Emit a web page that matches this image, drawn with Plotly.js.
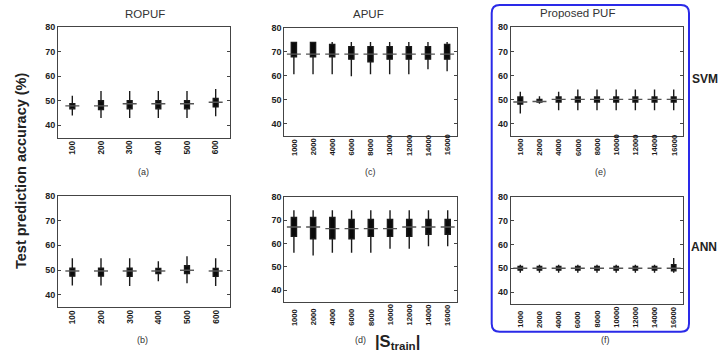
<!DOCTYPE html>
<html><head><meta charset="utf-8">
<script src="https://cdn.plot.ly/plotly-3.0.1.min.js"></script>
<style>body{margin:0;padding:0;background:#fff}#chart{width:720px;height:353px}</style>
</head><body><div id="chart"></div>
<script>
// ---------- data ----------
var ropufCats = ['100','200','300','400','500','600'];
var pufCats = ['1000','2000','4000','6000','8000','10000','12000','14000','16000'];
var yTickVals = [40,50,60,70,80];

// (a) ROPUF, SVM
var ropufSvmLo  = [44.0, 43.0, 43.0, 43.0, 43.0, 43.7];
var ropufSvmQ1  = [46.7, 46.4, 46.7, 46.7, 46.7, 47.5];
var ropufSvmMed = [47.9, 47.9, 48.8, 48.8, 48.8, 49.4];
var ropufSvmQ3  = [48.8, 50.0, 50.0, 50.0, 50.0, 50.9];
var ropufSvmHi  = [52.0, 54.0, 54.0, 54.0, 54.0, 54.8];
// (b) ROPUF, ANN
var ropufAnnLo  = [43.7, 43.7, 43.5, 45.4, 44.6, 43.5];
var ropufAnnQ1  = [47.5, 47.5, 47.4, 48.6, 48.6, 47.4];
var ropufAnnMed = [49.6, 49.6, 49.6, 49.6, 49.9, 49.6];
var ropufAnnQ3  = [50.7, 50.7, 50.7, 50.6, 51.7, 50.6];
var ropufAnnHi  = [54.8, 54.8, 54.8, 53.5, 55.6, 54.8];
// (c) APUF, SVM
var apufSvmLo  = [60.6, 60.6, 60.6, 59.8, 60.6, 60.6, 60.6, 62.7, 61.9];
var apufSvmQ1  = [67.9, 67.9, 67.9, 66.9, 65.8, 66.9, 66.9, 66.9, 66.9];
var apufSvmMed = [69.0, 69.0, 69.0, 69.0, 69.0, 69.0, 69.0, 69.0, 69.0];
var apufSvmQ3  = [73.9, 73.9, 73.0, 72.1, 72.1, 72.1, 72.1, 72.1, 73.0];
var apufSvmHi  = [74.0, 74.0, 74.0, 74.0, 74.0, 74.0, 74.0, 74.0, 74.0];
// (d) APUF, ANN
var apufAnnLo  = [56.0, 54.8, 56.0, 56.0, 56.0, 57.7, 57.7, 58.8, 58.8];
var apufAnnQ1  = [63.0, 62.0, 62.0, 62.0, 63.0, 63.0, 63.0, 63.9, 63.9];
var apufAnnMed = [67.0, 67.0, 66.3, 66.3, 66.3, 66.3, 67.0, 67.0, 67.0];
var apufAnnQ3  = [71.1, 71.1, 71.1, 70.2, 70.2, 70.2, 70.2, 70.2, 70.2];
var apufAnnHi  = [74.2, 74.2, 74.2, 74.2, 74.2, 74.2, 74.2, 74.2, 74.2];
// (e) Proposed PUF, SVM
var propSvmLo  = [44.2, 48.3, 45.6, 45.6, 45.6, 45.6, 45.6, 45.6, 45.6];
var propSvmQ1  = [48.1, 49.0, 49.0, 49.0, 49.0, 49.0, 49.0, 49.0, 49.0];
var propSvmMed = [49.0, 49.2, 50.1, 50.1, 50.1, 50.1, 50.1, 50.1, 50.1];
var propSvmQ3  = [51.1, 50.0, 51.1, 51.1, 51.1, 51.1, 51.1, 51.1, 51.1];
var propSvmHi  = [53.2, 51.4, 53.2, 54.2, 54.2, 54.2, 54.2, 54.2, 54.2];
// (f) Proposed PUF, ANN
var propAnnLo  = [48.1, 48.1, 48.1, 48.1, 48.1, 48.1, 48.1, 48.1, 48.1];
var propAnnQ1  = [49.2, 49.2, 49.2, 49.2, 49.2, 49.2, 49.2, 49.2, 48.9];
var propAnnMed = [50.0, 50.0, 50.0, 50.0, 50.0, 50.0, 50.0, 50.0, 50.0];
var propAnnQ3  = [50.7, 50.7, 50.7, 50.7, 50.7, 50.7, 50.7, 50.7, 51.5];
var propAnnHi  = [51.5, 51.5, 51.5, 51.5, 51.5, 51.5, 51.5, 51.5, 54.3];

// ---------- layout helpers ----------
var W = 720, H = 353;
function px(x){ return x / W; }
function py(y){ return 1 - y / H; }
var FONT = 'Liberation Sans, Arial, Helvetica, sans-serif';

var panels = [
  {id:'',  cats:ropufCats, lo:ropufSvmLo, q1:ropufSvmQ1, med:ropufSvmMed, q3:ropufSvmQ3, hi:ropufSvmHi, g:[58,230,27.3,137.5], lb:155.5, ls:8.3, bw:0.17},
  {id:'2', cats:pufCats,   lo:apufSvmLo,  q1:apufSvmQ1,  med:apufSvmMed,  q3:apufSvmQ3,  hi:apufSvmHi,  g:[284.3,456.7,27.7,135.7], lb:156.7, ls:7.6, bw:0.27},
  {id:'3', cats:pufCats,   lo:propSvmLo,  q1:propSvmQ1,  med:propSvmMed,  q3:propSvmQ3,  hi:propSvmHi,  g:[510.7,683.3,27.3,135.7], lb:156.7, ls:7.6, bw:0.25},
  {id:'4', cats:ropufCats, lo:ropufAnnLo, q1:ropufAnnQ1, med:ropufAnnMed, q3:ropufAnnQ3, hi:ropufAnnHi, g:[58,230,196,307], lb:325, ls:8.3, bw:0.17},
  {id:'5', cats:pufCats,   lo:apufAnnLo,  q1:apufAnnQ1,  med:apufAnnMed,  q3:apufAnnQ3,  hi:apufAnnHi,  g:[284.3,457.3,196.7,301.7], lb:326.7, ls:7.6, bw:0.27},
  {id:'6', cats:pufCats,   lo:propAnnLo,  q1:propAnnQ1,  med:propAnnMed,  q3:propAnnQ3,  hi:propAnnHi,  g:[510.7,683.3,196.7,304], lb:329, ls:7.6, bw:0.23}
];

var traces = [];
var layout = {
  width: W, height: H,
  margin: {l:0, r:0, t:0, b:0},
  paper_bgcolor: '#ffffff', plot_bgcolor: '#ffffff',
  showlegend: false,
  font: {family: FONT, color: '#333'},
  annotations: [], shapes: []
};

panels.forEach(function(p){
  var xa = 'x' + p.id, ya = 'y' + p.id;
  traces.push({
    type: 'box', xaxis: xa, yaxis: ya,
    x: p.cats, q1: p.q1, median: p.med, q3: p.q3,
    lowerfence: p.lo, upperfence: p.hi,
    width: p.bw, whiskerwidth: 0, boxpoints: false,
    fillcolor: '#0a0a0a', line: {color: '#1a1a1a', width: 1.4},
    hoverinfo: 'skip'
  });
  traces.push({
    type: 'scatter', mode: 'markers', xaxis: xa, yaxis: ya,
    x: p.cats, y: p.med,
    marker: {symbol: 'line-ew', size: 10, color: '#555', line: {color: '#555', width: 1.4}},
    hoverinfo: 'skip'
  });
  layout['xaxis' + p.id] = {
    domain: [px(p.g[0]), px(p.g[1])], anchor: ya,
    type: 'category', range: [-0.5, p.cats.length - 0.5],
    showline: true, mirror: true, linecolor: '#444', linewidth: 1,
    showgrid: false, zeroline: false, ticks: '', showticklabels: false, fixedrange: true
  };
  layout['yaxis' + p.id] = {
    domain: [py(p.g[3]), py(p.g[2])], anchor: xa,
    range: [35, 80], tickvals: yTickVals,
    showline: true, mirror: 'ticks', linecolor: '#444', linewidth: 1,
    ticks: 'inside', ticklen: 3, tickcolor: '#444',
    showgrid: false, zeroline: false,
    showticklabels: true,
    tickfont: {family: FONT, size: 9, color: '#222', weight: 'bold'},
    fixedrange: true
  };
  p.cats.forEach(function(c, i){
    layout.annotations.push({
      xref: xa, yref: 'paper', x: i, y: py(p.lb),
      xanchor: 'center', yanchor: 'bottom', textangle: -90,
      text: '<b>' + c + '</b>', showarrow: false, borderpad: 0,
      font: {family: FONT, size: p.ls, color: '#1a1a1a'}
    });
  });
});

function note(text, x, y, size, opts){
  var a = {xref:'paper', yref:'paper', x: px(x), y: py(y), xanchor:'center', yanchor:'middle',
    text: text, showarrow: false, font: {family: FONT, size: size, color: '#333'}};
  if (opts) for (var k in opts) a[k] = opts[k];
  layout.annotations.push(a);
}
note('ROPUF', 145, 14, 11.5);
note('APUF', 369, 14, 11.5);
note('Proposed PUF', 577, 12.5, 11.5);
note('(a)', 143, 171.5, 9);
note('(c)', 370.5, 172, 9);
note('(e)', 600, 172, 9);
note('(b)', 142.5, 340, 9);
note('(d)', 360, 339.5, 9);
note('(f)', 605.5, 340, 9);
note('<b>|S<sub>train</sub>|</b>', 397, 342, 16.5, {font:{family: FONT, size: 16.5, color:'#222'}});
note('<b>Test prediction accuracy (%)</b>', 21, 171, 14.5, {textangle: -90, font:{family: FONT, size: 14.5, color:'#222'}});
note('<b>SVM</b>', 705, 79, 12, {font:{family: FONT, size: 12, color:'#222'}});
note('<b>ANN</b>', 704, 247, 12, {font:{family: FONT, size: 12, color:'#222'}});

// rounded blue frame around the proposed PUF panels
(function(){
  var x0 = px(491.7), x1 = px(689), y0 = py(331.7), y1 = py(5);
  var rx = 8 / W, ry = 8 / H;
  var path = 'M' + (x0 + rx) + ',' + y1 +
    ' L' + (x1 - rx) + ',' + y1 + ' Q' + x1 + ',' + y1 + ' ' + x1 + ',' + (y1 - ry) +
    ' L' + x1 + ',' + (y0 + ry) + ' Q' + x1 + ',' + y0 + ' ' + (x1 - rx) + ',' + y0 +
    ' L' + (x0 + rx) + ',' + y0 + ' Q' + x0 + ',' + y0 + ' ' + x0 + ',' + (y0 + ry) +
    ' L' + x0 + ',' + (y1 - ry) + ' Q' + x0 + ',' + y1 + ' ' + (x0 + rx) + ',' + y1 + ' Z';
  layout.shapes.push({type:'path', xref:'paper', yref:'paper', path: path,
    line: {color: '#2a2ae8', width: 2}, fillcolor: 'rgba(0,0,0,0)', layer: 'above'});
})();

Plotly.newPlot('chart', traces, layout, {staticPlot: true, displayModeBar: false});
</script>
</body></html>
